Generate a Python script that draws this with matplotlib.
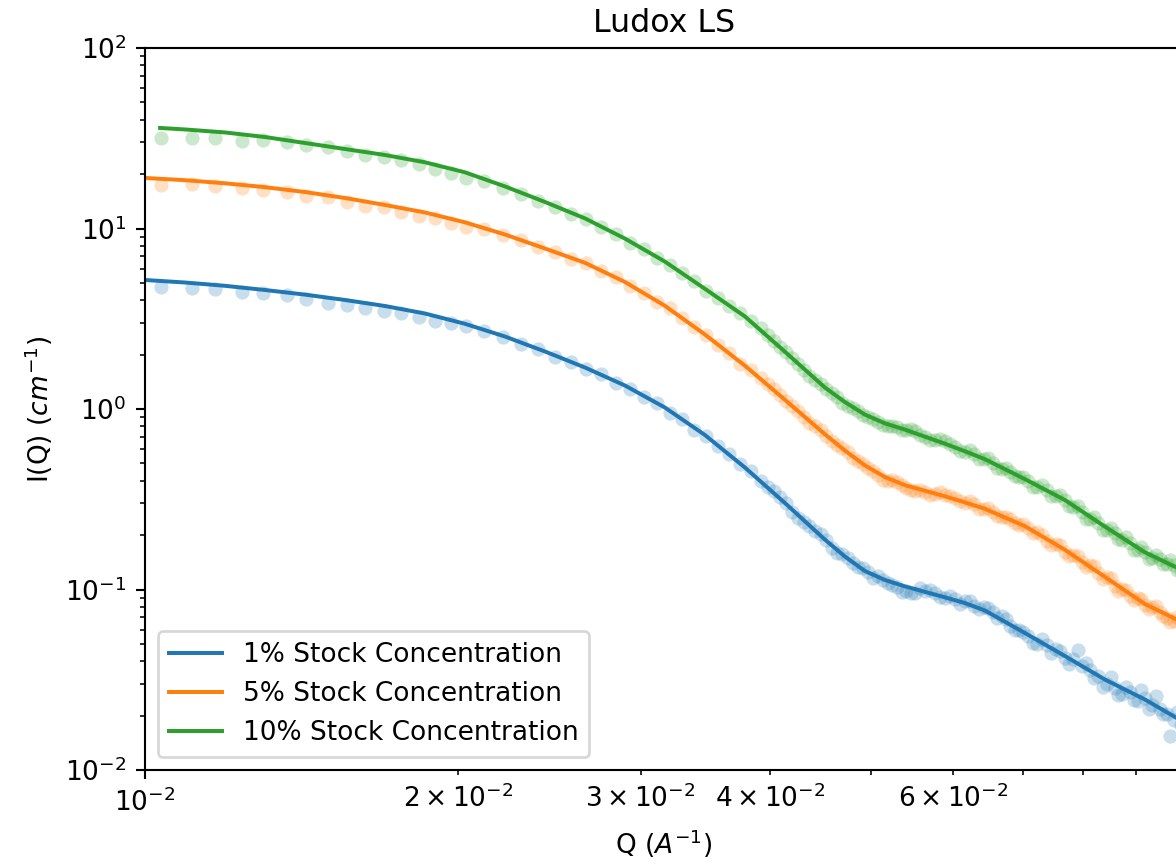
import matplotlib
matplotlib.use('Agg')
import matplotlib.pyplot as plt

# ---- data ----
q_data = [0.01037, 0.01109, 0.01168, 0.01239, 0.01300, 0.01370, 0.01430, 0.01500,
          0.01565, 0.01630, 0.01700, 0.01765, 0.01835, 0.01900, 0.01970, 0.02035,
          0.0212, 0.0221, 0.0230, 0.0239, 0.0248, 0.0257, 0.0266, 0.0275, 0.0284,
          0.0293, 0.0302, 0.0311, 0.0320, 0.0329, 0.0338, 0.0347, 0.0356, 0.0365,
          0.0374, 0.0383, 0.0392,
          0.0403, 0.0414, 0.0425, 0.0436, 0.0447, 0.0458, 0.0469, 0.0480, 0.0491,
          0.0502, 0.0513, 0.0524, 0.0535, 0.0546, 0.0557,
          0.0570, 0.0583, 0.0596, 0.0609, 0.0622, 0.0635, 0.0648, 0.0661, 0.0674,
          0.0687, 0.0700,
          0.0715, 0.0730, 0.0745, 0.0760, 0.0775, 0.0790, 0.0805, 0.0820, 0.0835,
          0.0850, 0.0865, 0.0880, 0.0895, 0.0910, 0.0925, 0.0940, 0.0955, 0.0970,
          0.0985, 0.1000]

i_data_1 = [4.76, 4.66, 4.61, 4.47, 4.38, 4.28, 4.05, 3.88, 3.77, 3.61, 3.50, 3.42,
            3.22, 3.08, 3.01, 2.88,
            2.70, 2.51, 2.28, 2.16, 1.94, 1.82, 1.66, 1.57, 1.395, 1.296, 1.168,
            1.081, 0.953, 0.877, 0.769, 0.710, 0.625, 0.565, 0.498, 0.452, 0.400,
            0.350, 0.2996, 0.248, 0.2251, 0.2025, 0.1693, 0.1567, 0.1397, 0.1314,
            0.1161, 0.1130, 0.1055, 0.0974, 0.0958, 0.1017,
            0.0991, 0.0907, 0.0918, 0.0831, 0.0860, 0.0783, 0.0791, 0.0693, 0.0684,
            0.0594, 0.0579,
            0.0506, 0.0530, 0.0447, 0.0456, 0.0386, 0.0462, 0.0391, 0.0323, 0.0290,
            0.0326, 0.0259, 0.0290, 0.0244, 0.0277, 0.0218, 0.0256, 0.0204, 0.0154,
            0.0210, 0.0162]

i_data_5 = [17.42, 17.65, 17.20, 16.70, 16.34, 16.00, 15.14, 14.89, 14.08, 13.33,
            13.21, 12.39, 11.73, 11.39, 10.69, 10.23,
            9.92, 9.16, 8.59, 7.88, 7.40, 6.79, 6.40, 5.81, 5.41, 4.80, 4.41, 3.91,
            3.61, 3.18, 2.85, 2.56, 2.25, 2.04, 1.784, 1.655, 1.476,
            1.291, 1.106, 0.975, 0.840, 0.764, 0.662, 0.608, 0.537, 0.493, 0.453,
            0.405, 0.404, 0.378, 0.3545, 0.355,
            0.3346, 0.3455, 0.3304, 0.3080, 0.3073, 0.2804, 0.2814, 0.2547, 0.2528,
            0.2324, 0.2318,
            0.2051, 0.2012, 0.1764, 0.1755, 0.1527, 0.1533, 0.1338, 0.1344, 0.1145,
            0.1151, 0.0980, 0.0997, 0.0874, 0.0888, 0.0778, 0.0814, 0.0714, 0.0660,
            0.0702, 0.0636]

i_data_10 = [31.6, 31.8, 31.6, 30.6, 30.9, 30.3, 29.0, 28.2, 27.0, 25.5, 25.0, 23.96,
             22.77, 21.28, 20.22, 18.97,
             18.38, 16.77, 15.57, 14.13, 13.12, 12.06, 11.27, 10.17, 9.31, 8.35, 7.68,
             6.85, 6.29, 5.65, 5.10, 4.49, 4.13, 3.70, 3.42, 3.08, 2.82,
             2.37, 2.06, 1.771, 1.522, 1.369, 1.233, 1.084, 1.014, 0.929, 0.885,
             0.813, 0.809, 0.766, 0.773, 0.722,
             0.674, 0.680, 0.637, 0.583, 0.589, 0.530, 0.534, 0.473, 0.471, 0.423,
             0.422,
             0.372, 0.378, 0.331, 0.332, 0.289, 0.290, 0.2467, 0.2512, 0.2145, 0.2192,
             0.1897, 0.1966, 0.1664, 0.1717, 0.1485, 0.1555, 0.1381, 0.1448, 0.1288,
             0.1299]

# denser data points at high Q (between the ones above)
q_data_b = [0.03975, 0.04085, 0.04195, 0.04305, 0.04415, 0.04525, 0.04635, 0.04745,
            0.04855, 0.04965, 0.05075, 0.05185, 0.05295, 0.05405, 0.05515,
            0.05635, 0.05765, 0.05895, 0.06025, 0.06155, 0.06285, 0.06415, 0.06545,
            0.06675, 0.06805, 0.06935,
            0.07075, 0.07225, 0.07375, 0.07525, 0.07675, 0.07825, 0.07975, 0.08125,
            0.08275, 0.08425, 0.08575, 0.08725, 0.08875, 0.09025, 0.09175, 0.09325,
            0.09475, 0.09625, 0.09775, 0.09925]

i_data_1b = [0.372, 0.326, 0.270, 0.238, 0.212, 0.187, 0.160, 0.150, 0.134, 0.125,
             0.1185, 0.1080, 0.1030, 0.0985, 0.0960,
             0.0975, 0.0955, 0.0895, 0.0885, 0.0868, 0.0815, 0.0800, 0.0752, 0.0710,
             0.0625, 0.0600,
             0.0555, 0.0500, 0.0495, 0.0468, 0.0420, 0.0410, 0.0378, 0.0360, 0.0330,
             0.0300, 0.0285, 0.0262, 0.0270, 0.0240, 0.0252, 0.0228, 0.0219, 0.0205,
             0.0190, 0.0178]

i_data_5b = [1.38, 1.195, 1.035, 0.905, 0.800, 0.713, 0.632, 0.575, 0.512, 0.470,
             0.430, 0.398, 0.392, 0.366, 0.352,
             0.346, 0.337, 0.333, 0.322, 0.302, 0.296, 0.279, 0.270, 0.252, 0.245,
             0.228,
             0.219, 0.2070, 0.1860, 0.1790, 0.1620, 0.1560, 0.1420, 0.1365, 0.1230,
             0.1170, 0.1050, 0.1005, 0.0925, 0.0893, 0.0820, 0.0805, 0.0755, 0.0695,
             0.0672, 0.0668]

i_data_10b = [2.58, 2.20, 1.91, 1.64, 1.45, 1.295, 1.160, 1.045, 0.975, 0.900,
              0.852, 0.805, 0.790, 0.762, 0.754,
              0.700, 0.672, 0.662, 0.615, 0.581, 0.565, 0.528, 0.505, 0.468, 0.450,
              0.418,
              0.398, 0.370, 0.357, 0.328, 0.312, 0.285, 0.270, 0.2450, 0.2330,
              0.2130, 0.2050, 0.1890, 0.1820, 0.1650, 0.1610, 0.1490, 0.1475, 0.1390,
              0.1375, 0.1270]

# fitted model curves
q_fit = [0.01000, 0.010926, 0.011940, 0.013046, 0.014255, 0.015576, 0.017021,
         0.018598, 0.020322, 0.022205, 0.024265, 0.026513, 0.028974, 0.031654,
         0.034590, 0.037795, 0.041300, 0.045122, 0.047167, 0.049310, 0.051540,
         0.053878, 0.058880, 0.061520, 0.064335, 0.070307, 0.076815, 0.083945,
         0.091711, 0.1000]
q_fit_10 = [0.01034] + q_fit[1:]

i_fit_1 = [5.185, 5.021, 4.814, 4.563, 4.303, 4.018, 3.721, 3.381, 2.965, 2.521,
           2.083, 1.698, 1.349, 1.019, 0.7177, 0.4741, 0.3014, 0.1892, 0.1524,
           0.1266, 0.1129, 0.1041, 0.0905, 0.0842, 0.0765, 0.0574, 0.0428, 0.0317,
           0.0246, 0.0184]
i_fit_5 = [19.05, 18.52, 17.80, 16.94, 15.93, 14.76, 13.50, 12.27, 10.82, 9.266,
           7.748, 6.457, 5.054, 3.730, 2.587, 1.738, 1.125, 0.7250, 0.589, 0.4870,
           0.4201, 0.3784, 0.3283, 0.3041, 0.2800, 0.2242, 0.1660, 0.1174, 0.0831,
           0.0652]
i_fit_10 = [36.06, 35.38, 34.05, 32.13, 29.77, 27.57, 25.54, 23.27, 20.48, 17.11,
            14.03, 11.38, 8.79, 6.556, 4.633, 3.258, 2.077, 1.316, 1.093, 0.9311,
            0.833, 0.7688, 0.6424, 0.5837, 0.5272, 0.4086, 0.3132, 0.2231, 0.1607,
            0.1266]

labels = ['1% Stock Concentration', '5% Stock Concentration', '10% Stock Concentration']
colors = ['tab:blue', 'tab:orange', 'tab:green']

# ---- figure ----
DPI = 190
fig = plt.figure(figsize=(1176 / DPI, 868 / DPI), dpi=DPI)
ax = fig.add_axes([145 / 1176, 98 / 868, 1038 / 1176, 722 / 868])

series = [(i_data_1, i_data_1b, q_fit, i_fit_1),
          (i_data_5, i_data_5b, q_fit, i_fit_5),
          (i_data_10, i_data_10b, q_fit_10, i_fit_10)]

for (ia, ib, qf, ifit), lab, c in zip(series, labels, colors):
    ax.plot(q_data + q_data_b, ia + ib, 'o', ms=5.4, mew=0, color=c, alpha=0.24)
    ax.plot(qf, ifit, color=c, label=lab)

ax.set_xscale('log')
ax.set_yscale('log')
ax.set_xlim(0.01, 0.0998)
ax.set_ylim(0.01, 100)
ax.set_title('Ludox LS')
ax.set_xlabel(r'Q $(A^{-1})$')
ax.set_ylabel(r'I(Q) $(cm^{-1})$')
ax.legend(loc='lower left')

fig.savefig('out.png', dpi=DPI)
